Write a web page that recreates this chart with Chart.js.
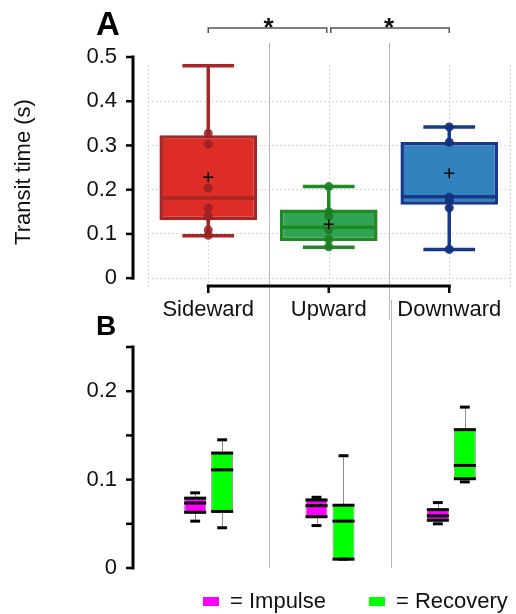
<!DOCTYPE html>
<html>
<head>
<meta charset="utf-8">
<script src="https://cdn.jsdelivr.net/npm/chart.js@4.4.0/dist/chart.umd.min.js"></script>
<style>
  html, body { margin: 0; padding: 0; background: #fff; }
  #wrap { position: relative; width: 516px; height: 614px; overflow: hidden; }
  canvas { position: absolute; left: 0; }
  #chartA { top: 0; }
  #chartB { top: 300px; }
</style>
</head>
<body>
<div id="wrap">
  <canvas id="chartA" width="516" height="320"></canvas>
  <canvas id="chartB" width="516" height="314"></canvas>
</div>
<script>
// ---- data ----
const categories = ['Sideward', 'Upward', 'Downward'];

// panel A: transit time box stats
const yTicksA = [0, 0.1, 0.2, 0.3, 0.4, 0.5];
const yLabelsA = ['0', '0.1', '0.2', '0.3', '0.4', '0.5'];
const lowA = [0.096, 0.070, 0.065];
const q1A = [0.131, 0.084, 0.166];
const medianA = [0.181, 0.115, 0.184];
const q3A = [0.323, 0.155, 0.308];
const highA = [0.480, 0.207, 0.342];
const meanA = [0.228, 0.122, 0.237];
const sidewardPts = [0.327, 0.303, 0.203, 0.158, 0.139, 0.109, 0.097];
const upwardPts = [0.207, 0.150, 0.140, 0.109, 0.088, 0.071];
const downwardPts = [0.342, 0.307, 0.183, 0.176, 0.159, 0.065];

// panel B: impulse / recovery box stats
const yTicksB = [0, 0.05, 0.1, 0.15, 0.2, 0.25];
const yLabelsB = ['0', '', '0.1', '', '0.2', ''];
const impulseLow = [0.053, 0.048, 0.050];
const impulseQ1 = [0.063, 0.058, 0.054];
const impulseMed = [0.0735, 0.0705, 0.059];
const impulseQ3 = [0.079, 0.077, 0.066];
const impulseHigh = [0.085, 0.080, 0.074];
const recoveryLow = [0.0455, 0.010, 0.0974];
const recoveryQ1 = [0.064, 0.010, 0.101];
const recoveryMed = [0.111, 0.053, 0.116];
const recoveryQ3 = [0.130, 0.071, 0.1565];
const recoveryHigh = [0.145, 0.127, 0.182];

// ---- styles ----
const fillA = ['#de2d26', '#31a354', '#3182bd'];
const lineA = ['#a3282a', '#1f8a24', '#18388a'];
const dotA = ['rgba(150,32,36,0.85)', 'rgba(28,125,34,0.9)', 'rgba(20,48,125,0.95)'];
const sepColor = '#b8b8b8';
const FONT = "'Liberation Sans', Arial, sans-serif";

Chart.defaults.font.family = FONT;
Chart.defaults.color = '#111';
Chart.defaults.animation = false;

const crisp = v => Math.round(v) + 0.5;
function line(ctx, x1, y1, x2, y2) {
  ctx.beginPath(); ctx.moveTo(x1, y1); ctx.lineTo(x2, y2); ctx.stroke();
}
function catGeom(xs) {
  const c = categories.map((_, i) => xs.getPixelForValue(i));
  const half = (c[1] - c[0]) / 2;
  const edges = [c[0] - half];
  for (let i = 0; i < c.length - 1; i++) edges.push((c[i] + c[i + 1]) / 2);
  edges.push(c[c.length - 1] + half);
  return { centers: c, edges };
}
function drawYAxis(chart, ticks) {
  const { ctx, chartArea: a, scales: { y } } = chart;
  const ax = a.left - 15;
  ctx.save();
  ctx.strokeStyle = '#000';
  ctx.lineWidth = 3;
  ctx.lineCap = 'square';
  line(ctx, ax, y.getPixelForValue(ticks[0]), ax, y.getPixelForValue(ticks[ticks.length - 1]));
  ctx.lineWidth = 2.5;
  ctx.lineCap = 'butt';
  ticks.forEach(t => line(ctx, ax - 7, y.getPixelForValue(t), ax, y.getPixelForValue(t)));
  ctx.restore();
}

// whiskers, caps and medians for panel A
function drawBoxesA(chart, meta) {
  const { ctx, scales: { y } } = chart;
  const ds = chart.data.datasets[meta.index];
  ctx.save();
  meta.data.forEach((bar, i) => {
    const { x, width } = bar.getProps(['x', 'width'], true);
    const cw = width * 0.53;
    ctx.strokeStyle = ds.borderColor[i];
    ctx.lineWidth = 3.5;
    const pLo = y.getPixelForValue(ds.low[i]);
    const pHi = y.getPixelForValue(ds.high[i]);
    const pQ1 = y.getPixelForValue(ds.data[i][0]);
    const pQ3 = y.getPixelForValue(ds.data[i][1]);
    const pMed = y.getPixelForValue(ds.med[i]);
    line(ctx, x, pQ3, x, pHi);
    line(ctx, x, pQ1, x, pLo);
    line(ctx, x - cw / 2, pHi, x + cw / 2, pHi);
    line(ctx, x - cw / 2, pLo, x + cw / 2, pLo);
    line(ctx, x - width / 2 + 1, pMed, x + width / 2 - 1, pMed);
  });
  ctx.restore();
}

// whiskers, caps and medians for panel B
function drawBoxesB(chart, meta) {
  const { ctx, scales: { y } } = chart;
  const ds = chart.data.datasets[meta.index];
  ctx.save();
  meta.data.forEach((bar, i) => {
    const { x, width } = bar.getProps(['x', 'width'], true);
    const cw = width * 0.45;
    const pLo = y.getPixelForValue(ds.low[i]);
    const pHi = y.getPixelForValue(ds.high[i]);
    const pQ1 = y.getPixelForValue(ds.data[i][0]);
    const pQ3 = y.getPixelForValue(ds.data[i][1]);
    const pMed = y.getPixelForValue(ds.med[i]);
    ctx.strokeStyle = '#8c8c8c';
    ctx.lineWidth = 1;
    line(ctx, crisp(x), pQ3, crisp(x), pHi);
    line(ctx, crisp(x), pQ1, crisp(x), pLo);
    ctx.strokeStyle = '#000';
    ctx.lineWidth = 3;
    [pQ1, pMed, pQ3].forEach(p => line(ctx, x - width / 2, p, x + width / 2, p));
    line(ctx, x - cw / 2, pHi, x + cw / 2, pHi);
    line(ctx, x - cw / 2, pLo, x + cw / 2, pLo);
  });
  ctx.restore();
}

const panelAPlugin = {
  id: 'panelA',
  beforeDatasetsDraw(chart) {
    const { ctx, chartArea: a, scales: { x } } = chart;
    const { centers, edges } = catGeom(x);
    ctx.save();
    ctx.lineWidth = 1;
    ctx.setLineDash([2, 2]);
    ctx.strokeStyle = '#d6d6d6';
    [edges[0], ...centers, edges[edges.length - 1]].forEach(px => line(ctx, crisp(px), a.top + 8, crisp(px), a.bottom));
    ctx.setLineDash([]);
    ctx.strokeStyle = sepColor;
    edges.slice(1, -1).forEach(px => line(ctx, crisp(px), 43, crisp(px), chart.height));
    ctx.restore();
  },
  afterDatasetDraw(chart, args) {
    if (args.meta.type === 'bar') drawBoxesA(chart, args.meta);
  },
  afterDraw(chart) {
    const { ctx, chartArea: a, scales: { x } } = chart;
    const { centers } = catGeom(x);
    drawYAxis(chart, yTicksA);
    ctx.save();
    // x axis line with ticks
    ctx.strokeStyle = '#000';
    ctx.lineWidth = 3;
    line(ctx, centers[0] - 1.5, a.bottom - 1, centers[centers.length - 1] + 1.5, a.bottom - 1);
    ctx.lineWidth = 2.5;
    centers.forEach(c => line(ctx, c, a.bottom - 1, c, a.bottom + 6));
    // significance brackets
    ctx.strokeStyle = '#555';
    ctx.lineWidth = 1.5;
    [[centers[0], centers[1] - 2], [centers[1] + 2, centers[2]]].forEach(([l, r]) => {
      ctx.beginPath();
      ctx.moveTo(l, 33); ctx.lineTo(l, 28); ctx.lineTo(r, 28); ctx.lineTo(r, 33);
      ctx.stroke();
    });
    ctx.fillStyle = '#111';
    ctx.font = 'bold 26px ' + FONT;
    ctx.textAlign = 'center';
    ctx.textBaseline = 'alphabetic';
    ctx.fillText('*', (centers[0] + centers[1]) / 2, 36);
    ctx.fillText('*', (centers[1] + centers[2]) / 2, 36);
    // panel letter
    ctx.textAlign = 'left';
    ctx.fillStyle = '#000';
    ctx.font = 'bold 33px ' + FONT;
    ctx.fillText('A', 96, 35);
    ctx.restore();
  }
};

const panelBPlugin = {
  id: 'panelB',
  beforeDatasetsDraw(chart) {
    const { ctx, chartArea: a, scales: { x } } = chart;
    const { edges } = catGeom(x);
    ctx.save();
    ctx.lineWidth = 1;
    ctx.strokeStyle = sepColor;
    edges.slice(1, -1).forEach(px => line(ctx, crisp(px), 0, crisp(px), a.bottom));
    ctx.restore();
  },
  afterDatasetDraw(chart, args) {
    if (args.meta.type === 'bar') drawBoxesB(chart, args.meta);
  },
  afterDraw(chart) {
    const { ctx } = chart;
    drawYAxis(chart, yTicksB);
    ctx.save();
    ctx.fillStyle = '#000';
    ctx.font = 'bold 28px ' + FONT;
    ctx.textBaseline = 'alphabetic';
    ctx.fillText('B', 96, 35);
    // legend
    ctx.font = '22px ' + FONT;
    ctx.textBaseline = 'middle';
    let lx = 203;
    const cy = 301.5;
    chart.data.datasets.forEach(ds => {
      const txt = '= ' + ds.label;
      ctx.fillStyle = ds.backgroundColor;
      ctx.fillRect(lx, cy - 4.5, 16, 9);
      ctx.fillStyle = '#111';
      ctx.fillText(txt, lx + 27, cy);
      lx += 27 + ctx.measureText(txt).width + 43;
    });
    ctx.restore();
  }
};

// ---- panel A ----
const ptsA = [sidewardPts, upwardPts, downwardPts];
const ptData = [], ptColors = [];
ptsA.forEach((arr, i) => arr.forEach(v => { ptData.push({ x: categories[i], y: v }); ptColors.push(dotA[i]); }));

new Chart(document.getElementById('chartA'), {
  type: 'bar',
  data: {
    labels: categories,
    datasets: [
      {
        type: 'line', label: 'mean', order: 1, showLine: false,
        data: meanA.map((v, i) => ({ x: categories[i], y: v })),
        pointStyle: 'cross', pointRadius: 5, pointBorderWidth: 1.5,
        borderColor: '#000', backgroundColor: '#000'
      },
      {
        type: 'line', label: 'points', order: 2, showLine: false,
        data: ptData,
        pointRadius: 4.5, pointBorderWidth: 0,
        pointBackgroundColor: ptColors, pointBorderColor: ptColors
      },
      {
        label: 'box', order: 3,
        data: q1A.map((v, i) => [v, q3A[i]]),
        low: lowA, high: highA, med: medianA,
        backgroundColor: fillA, borderColor: lineA,
        borderWidth: 3.5, borderSkipped: false,
        barPercentage: 0.81, categoryPercentage: 1
      }
    ]
  },
  options: {
    responsive: false,
    layout: { padding: { top: 57, right: 4, left: 0, bottom: 0 } },
    plugins: { legend: { display: false }, tooltip: { enabled: false } },
    scales: {
      x: {
        grid: { display: false, drawTicks: false },
        border: { display: false },
        ticks: { font: { size: 22 }, padding: 10, maxRotation: 0, autoSkip: false },
        afterFit: s => { s.height = 33; }
      },
      y: {
        min: -0.02, max: 0.5,
        afterBuildTicks: s => { s.ticks = yTicksA.map(v => ({ value: v })); },
        afterFit: s => { s.width = 148; s.paddingTop = 0; s.paddingBottom = 0; },
        grid: {
          drawTicks: false,
          color: c => (c.tick && c.tick.value > 0.45) ? 'rgba(0,0,0,0)' : '#d6d6d6'
        },
        border: { display: false, dash: [2, 2] },
        ticks: { font: { size: 22 }, padding: 31, autoSkip: false, callback: (v, i) => yLabelsA[i] },
        title: { display: true, text: 'Transit time (s)', font: { size: 22 }, padding: { top: 11 } }
      }
    }
  },
  plugins: [panelAPlugin]
});

// ---- panel B ----
new Chart(document.getElementById('chartB'), {
  type: 'bar',
  data: {
    labels: categories,
    datasets: [
      {
        label: 'Impulse',
        data: impulseQ1.map((v, i) => [v, impulseQ3[i]]),
        low: impulseLow, high: impulseHigh, med: impulseMed,
        backgroundColor: '#ff00ff', borderColor: '#8c8c8c',
        borderWidth: 1, borderSkipped: false
      },
      {
        label: 'Recovery',
        data: recoveryQ1.map((v, i) => [v, recoveryQ3[i]]),
        low: recoveryLow, high: recoveryHigh, med: recoveryMed,
        backgroundColor: '#00ff00', borderColor: '#8c8c8c',
        borderWidth: 1, borderSkipped: false
      }
    ]
  },
  options: {
    responsive: false,
    layout: { padding: { top: 47, right: 4, left: 0, bottom: 46 } },
    datasets: { bar: { barPercentage: 0.815, categoryPercentage: 0.445 } },
    plugins: { legend: { display: false }, tooltip: { enabled: false } },
    scales: {
      x: { display: false },
      y: {
        min: 0, max: 0.25,
        afterBuildTicks: s => { s.ticks = yTicksB.map(v => ({ value: v })); },
        afterFit: s => { s.width = 148; s.paddingTop = 0; s.paddingBottom = 0; },
        grid: { display: false, drawTicks: false },
        border: { display: false },
        ticks: { font: { size: 22 }, padding: 31, autoSkip: false, callback: (v, i) => yLabelsB[i] }
      }
    }
  },
  plugins: [panelBPlugin]
});
</script>
</body>
</html>
